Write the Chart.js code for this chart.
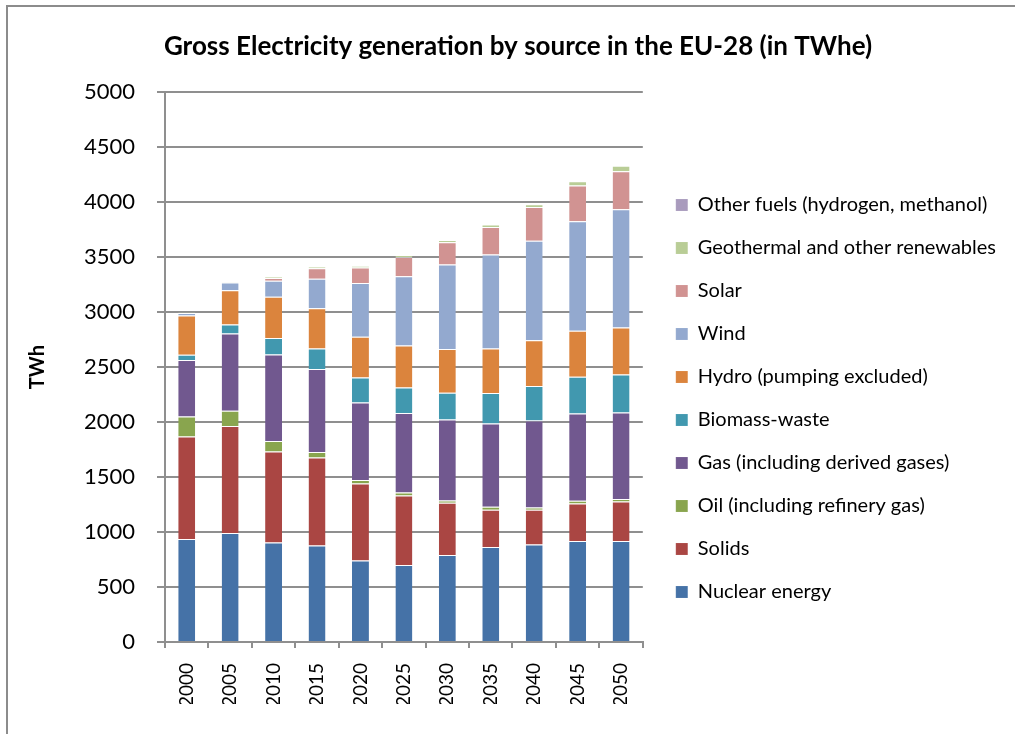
<!DOCTYPE html>
<html>
<head>
<meta charset="utf-8">
<script src="https://cdn.jsdelivr.net/npm/chart.js@4"></script>
<style>
  body { margin: 0; background: #fff; overflow: hidden; }
  #wrap { position: relative; width: 1015px; height: 734px; }
  #frame { position: absolute; left: 6px; top: 5px; width: 2000px; height: 2000px;
           border-left: 2px solid #8c8c8c; border-top: 2px solid #8c8c8c; }
  canvas { position: absolute; left: 0; top: 0; }
</style>
</head>
<body>
<div id="wrap">
  <div id="frame"></div>
  <canvas id="myChart" width="1015" height="734"></canvas>
</div>
<script>
const years = ["2000", "2005", "2010", "2015", "2020", "2025", "2030", "2035", "2040", "2045", "2050"];
const yTicks = [0, 500, 1000, 1500, 2000, 2500, 3000, 3500, 4000, 4500, 5000];

const nuclear = [936, 991, 906, 878, 742, 700, 791, 864, 887, 918, 918];
const solids = [933, 973, 827, 800, 700, 633, 475, 339, 316, 342, 360];
const oil = [182, 139, 94, 49, 31, 27, 21, 27, 21, 25, 22];
const gas = [513, 703, 788, 755, 705, 722, 737, 757, 791, 794, 787];
const biomass = [48, 81, 149, 187, 227, 233, 242, 277, 312, 333, 346];
const hydro = [357, 313, 375, 367, 370, 381, 398, 405, 418, 418, 427];
const wind = [22, 69, 146, 267, 489, 630, 769, 855, 903, 997, 1076];
const solar = [1, 2, 25, 97, 141, 176, 203, 249, 307, 324, 346];
const geothermal = [4, 7, 9, 12, 16, 18, 21, 23, 27, 40, 48];
const otherFuels = [0, 0, 0, 0, 0, 0, 0, 0, 0, 0, 0];

const series = [
  ["Nuclear energy", nuclear, "#4572A7"],
  ["Solids", solids, "#AA4643"],
  ["Oil (including refinery gas)", oil, "#89A54E"],
  ["Gas (including derived gases)", gas, "#71588F"],
  ["Biomass-waste", biomass, "#4198AF"],
  ["Hydro (pumping excluded)", hydro, "#DB843D"],
  ["Wind", wind, "#93A9CF"],
  ["Solar", solar, "#D19392"],
  ["Geothermal and other renewables", geothermal, "#B9CD96"],
  ["Other fuels (hydrogen, methanol)", otherFuels, "#A99BBD"]
];

const gridColor = "#8f8f8f";
const font = "Lato, 'Open Sans', sans-serif";

// nudge the legend a little to the right of the plot, like the original
const legendShift = {
  id: "legendShift",
  afterLayout: chart => {
    chart.legend.left += 10;
  }
};

const ctx = document.getElementById("myChart").getContext("2d");

new Chart(ctx, {
  type: "bar",
  data: {
    labels: years,
    datasets: series.map(s => {
      return {
        label: s[0],
        data: s[1],
        backgroundColor: s[2],
        borderColor: "rgba(255,255,255,0.45)",
        borderWidth: { top: 1, bottom: 0, left: 0, right: 0 },
        borderSkipped: false,
        barPercentage: 0.39,
        categoryPercentage: 1
      };
    })
  },
  plugins: [legendShift],
  options: {
    responsive: false,
    animation: false,
    layout: { padding: { left: 40, right: 19, top: 0, bottom: 30 } },
    plugins: {
      title: {
        display: true,
        text: "Gross Electricity generation by source in the EU-28 (in TWhe)",
        color: "#000",
        font: { family: font, size: 26, weight: "bold" },
        padding: { top: 31, bottom: 30 }
      },
      legend: {
        position: "right",
        reverse: true,
        maxWidth: 420,
        title: {
          display: true,
          text: "",
          font: { size: 10 },
          padding: { top: 81, bottom: 0 }
        },
        labels: {
          color: "#000",
          font: { family: font, size: 20 },
          boxWidth: 12,
          boxHeight: 12,
          padding: 23
        }
      },
      tooltip: { enabled: false }
    },
    scales: {
      x: {
        stacked: true,
        afterFit: s => { s.height = 734 - 30 - 642; },
        grid: {
          offset: true,
          drawOnChartArea: false,
          drawTicks: true,
          tickLength: 6,
          color: gridColor,
          lineWidth: 2
        },
        border: { display: true, color: gridColor, width: 2 },
        ticks: {
          color: "#000",
          font: { family: font, size: 19 },
          minRotation: 90,
          maxRotation: 90,
          padding: 15
        }
      },
      y: {
        stacked: true,
        min: 0,
        max: 5000,
        afterFit: s => { s.width = 165 - 40; },
        afterBuildTicks: s => { s.ticks = yTicks.map(v => ({ value: v })); },
        title: {
          display: true,
          text: "TWh",
          color: "#000",
          font: { family: font, size: 20, weight: "bold" },
          padding: { top: -14, bottom: 0 }
        },
        grid: {
          color: gridColor,
          lineWidth: 2,
          tickLength: 8
        },
        border: { display: true, color: gridColor, width: 2 },
        ticks: {
          color: "#000",
          font: { family: font, size: 22 },
          padding: 22,
          callback: v => String(v)
        }
      }
    }
  }
});
</script>
</body>
</html>
